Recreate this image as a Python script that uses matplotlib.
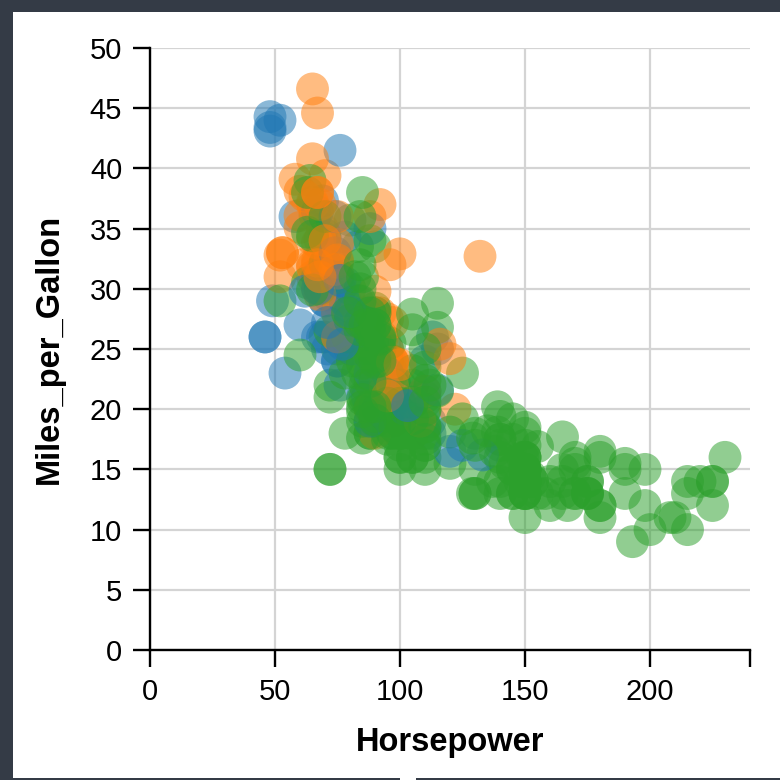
import matplotlib
matplotlib.use("Agg")
import matplotlib.pyplot as plt
from matplotlib.patches import Rectangle

# Cars dataset: horsepower, miles per gallon and origin, grouped by model year.
# Origin codes: U = USA, E = Europe, J = Japan.
hp_1970 = [130, 165, 150, 150, 140, 198, 220, 215, 225, 190, 170, 160, 150, 225, 95, 95, 97, 85, 88, 46,
           87, 90, 95, 113, 90, 215, 200, 210, 193]
mpg_1970 = [18, 15, 18, 16, 17, 15, 14, 14, 14, 15, 15, 14, 15, 14, 24, 22, 18, 21, 27, 26,
            25, 24, 25, 26, 21, 10, 10, 11, 9]
origin_1970 = "UUUUUUUUUUUUUUJUUUJEEEEEUUUUU"

hp_1971 = [88, 90, 95, 100, 105, 100, 88, 100, 165, 175, 153, 150, 180, 170, 175, 110, 72, 100, 88, 86,
           90, 70, 76, 65, 69, 60, 70, 95, 80, 54, 90, 86]
mpg_1971 = [27, 28, 25, 19, 16, 17, 19, 18, 14, 14, 14, 14, 12, 13, 13, 18, 22, 19, 18, 23,
            28, 30, 30, 31, 35, 27, 26, 24, 25, 23, 20, 21]
origin_1971 = "JUJ" "UUUUUUUUUUUUUUUUU" "EEEJJEUJUEUU"

hp_1972 = [165, 175, 150, 153, 150, 208, 155, 160, 190, 97, 150, 130, 140, 150, 112, 76, 87, 69, 86, 92,
           97, 80, 88]
mpg_1972 = [13, 14, 15, 14, 17, 11, 13, 12, 13, 19, 15, 13, 13, 14, 18, 22, 21, 26, 22, 28,
            23, 28, 27]
origin_1972 = "UUUUUUUUUJUUUUEEEEUJJUJ"

hp_1973 = [175, 150, 145, 137, 150, 198, 150, 158, 150, 215, 225, 175, 105, 100, 100, 88, 95, 46, 150, 167,
           170, 180, 100, 88, 72, 94, 90, 85, 107, 90, 145, 230, 49, 75, 91, 112, 150, 110, 122, 180]
mpg_1973 = [13, 14, 13, 14, 15, 12, 13, 13, 14, 13, 12, 13, 18, 16, 18, 18, 23, 26, 11, 12,
            13, 12, 18, 20, 21, 22, 18, 19, 21, 26, 15, 16, 29, 24, 20, 19, 15, 24, 20, 11]
origin_1973 = "UUUUUUUUUUUUUUUUU" "E" "UUUUU" "JUJJUUEUUEEEEUEJU"

hp_1974 = [95, 100, 100, 67, 80, 65, 75, 100, 110, 105, 140, 150, 150, 140, 150, 83, 67, 78, 52, 61,
           75, 75, 75, 97, 93, 67]
mpg_1974 = [20, 19, 15, 31, 26, 32, 25, 16, 16, 18, 16, 13, 14, 14, 14, 29, 26, 26, 31, 32,
            28, 24, 26, 24, 26, 31]
origin_1974 = "UUUJUJU" "UUUUUUUU" "EEEJJUEEJJE"

hp_1975 = [95, 105, 72, 72, 170, 145, 150, 148, 110, 105, 110, 95, 110, 110, 129, 75, 83, 100, 78, 96,
           71, 97, 97, 70, 90, 95, 88, 98, 115, 53]
mpg_1975 = [19, 18, 15, 15, 16, 15, 16, 14, 17, 16, 15, 18, 21, 20, 13, 29, 23, 20, 23, 24,
            25, 24, 18, 29, 19, 23, 23, 22, 25, 33]
origin_1975 = "UUUUUUUUUUUUUUU" "JUUUJEJUEUEEEEJ"

hp_1976 = [86, 81, 92, 79, 83, 140, 150, 120, 152, 100, 105, 81, 90, 52, 60, 70, 53, 100, 78, 110,
           95, 71, 70, 75, 72, 102, 150, 88, 108, 120, 180, 145, 130, 150]
mpg_1976 = [28, 25, 25, 26, 27, 17.5, 16, 15.5, 14.5, 22, 22, 24, 22.5, 29, 24.5, 29, 33, 20, 18, 18.5,
            17.5, 29.5, 32, 28, 26.5, 20, 13, 19, 19, 16.5, 16.5, 13, 13, 13]
origin_1976 = "EEUUE" "UUUUUUUUUU" "EJUUUUEJJUEUEJE" "UUUU"

hp_1977 = [68, 80, 58, 96, 70, 145, 110, 145, 130, 110, 105, 100, 98, 180, 170, 190, 149, 78, 88, 75,
           89, 63, 83, 67, 78, 97, 110, 110]
mpg_1977 = [31.5, 30, 36, 25.5, 33.5, 17.5, 17, 15.5, 15, 17.5, 20.5, 19, 18.5, 16, 15.5, 15.5, 16, 29, 24.5, 26,
            25.5, 30.5, 33.5, 30, 30.5, 22, 21.5, 21.5]
origin_1977 = "JUEUJ" "UUUUUUUUUUUU" "EUJUUUJEJEJ"

hp_1978 = [48, 66, 52, 70, 60, 110, 140, 139, 105, 95, 85, 88, 100, 90, 105, 85, 110, 120, 145, 165,
           139, 140, 68, 95, 97, 75, 95, 105, 85, 97, 103, 125, 115, 133, 71, 68]
mpg_1978 = [43.1, 36.1, 32.8, 39.4, 36.1, 19.9, 19.4, 20.2, 19.2, 20.5, 20.2, 25.1, 20.5, 19.4, 20.6, 20.8,
            18.6, 18.1, 19.2, 17.7, 18.1, 17.5, 30, 27.5, 27.2, 30.9, 21.1, 23.2, 23.8, 23.9, 20.3, 17,
            21.6, 16.2, 31.5, 29.5]
origin_1978 = "EUJJJ" "UUUUUUUUUUUUUUUUUU" "JJUJUUJEEEEEJ"

hp_1979 = [115, 85, 88, 90, 110, 130, 129, 138, 135, 155, 142, 125, 150, 71, 65, 80, 80, 77, 125, 71,
           90, 70, 70, 65, 69, 90, 115, 115, 90]
mpg_1979 = [21.5, 19.8, 22.3, 20.2, 20.6, 17, 17.6, 16.5, 18.2, 16.9, 15.5, 19.2, 18.5, 31.9, 34.1, 35.7,
            27.4, 25.4, 23, 27.2, 23.9, 34.2, 34.5, 31.8, 37.3, 28.4, 28.8, 26.8, 33.5]
origin_1979 = "UUUUUUUUUUUUU" "EJUUEUEUUUJEUUUU"

hp_1980 = [76, 60, 70, 65, 90, 88, 90, 90, 78, 90, 75, 92, 75, 65, 105, 65, 48, 48, 67, 67,
           67, 67, 62, 132, 100, 88, 72]
mpg_1980 = [41.5, 38.1, 32.1, 37.2, 28, 26.4, 24.3, 19.1, 34.3, 29.8, 31.3, 37, 32.2, 46.6, 27.9, 40.8,
            44.3, 43.4, 36.4, 30, 44.6, 33.8, 29.8, 32.7, 23.7, 35, 32.4]
origin_1980 = "EJUJUUUUEJJJJJUJEEEEJJEJJEJ"

hp_1981 = [84, 84, 92, 110, 84, 58, 64, 60, 67, 65, 62, 68, 63, 65, 65, 74, 75, 75, 100, 74,
           80, 76, 116, 120, 110, 105, 88, 85]
mpg_1981 = [27.2, 26.6, 25.8, 23.5, 30, 39.1, 39, 35.1, 32.3, 37, 37.7, 34.1, 34.7, 34.4, 29.9, 33,
            33.7, 32.4, 32.9, 31.6, 28.1, 30.7, 25.4, 24.2, 22.4, 26.6, 20.2, 17.6]
origin_1981 = "UUUUUJUJJJJJUUUEJJJJEEJJUUUU"

hp_1982 = [88, 88, 88, 85, 84, 90, 92, 74, 68, 68, 63, 70, 88, 75, 70, 67, 67, 67, 110, 85,
           92, 112, 96, 84, 90, 86, 52, 84, 79, 82]
mpg_1982 = [28, 27, 34, 31, 29, 27, 24, 36, 37, 31, 38, 36, 36, 36, 34, 38, 32, 38, 25, 38,
            26, 22, 32, 36, 27, 27, 44, 32, 28, 31]
origin_1982 = "UUUUUUUEJJUUJJJJJJUUUUJUUUEUUU"

years_hp = [hp_1970, hp_1971, hp_1972, hp_1973, hp_1974, hp_1975, hp_1976,
            hp_1977, hp_1978, hp_1979, hp_1980, hp_1981, hp_1982]
years_mpg = [mpg_1970, mpg_1971, mpg_1972, mpg_1973, mpg_1974, mpg_1975, mpg_1976,
             mpg_1977, mpg_1978, mpg_1979, mpg_1980, mpg_1981, mpg_1982]
years_origin = [origin_1970, origin_1971, origin_1972, origin_1973, origin_1974, origin_1975,
                origin_1976, origin_1977, origin_1978, origin_1979, origin_1980, origin_1981,
                origin_1982]
for h, m, o in zip(years_hp, years_mpg, years_origin):
    assert len(h) == len(m) == len(o), (len(h), len(m), len(o))

horsepower = [v for year in years_hp for v in year]
miles_per_gallon = [v for year in years_mpg for v in year]
origin_codes = "".join(years_origin)

origin_names = {"U": "USA", "E": "Europe", "J": "Japan"}
origin_colors = {"Europe": "#1f77b4", "Japan": "#ff7f0e", "USA": "#2ca02c"}
point_colors = [origin_colors[origin_names[c]] for c in origin_codes]

x_ticks = [0, 50, 100, 150, 200]
y_ticks = [0, 5, 10, 15, 20, 25, 30, 35, 40, 45, 50]

plt.rcParams["font.family"] = ["Liberation Sans", "DejaVu Sans"]

W = H = 780
fig = plt.figure(figsize=(W / 100, H / 100), dpi=100)
fig.patch.set_facecolor("white")

# dark page frame around the chart
frame = "#343b46"
for (x0, y0, w, h) in [(0, 0, 13, H), (0, H - 12, W, 12), (0, 0, 400, 2), (416, 0, W - 416, 2)]:
    fig.add_artist(Rectangle((x0 / W, y0 / H), w / W, h / H, transform=fig.transFigure,
                             facecolor=frame, edgecolor="none", zorder=0))

ax = fig.add_axes([150 / W, 130 / H, 600 / W, 602 / H])
ax.set_xlim(0, 240)
ax.set_ylim(0, 50)

ax.scatter(horsepower, miles_per_gallon, s=560, c=point_colors, alpha=0.52,
           edgecolors="none", clip_on=False, zorder=3)

for side in ("top", "right"):
    ax.spines[side].set_visible(False)
for side in ("left", "bottom"):
    ax.spines[side].set_color("black")
    ax.spines[side].set_linewidth(1.7)
    ax.spines[side].set_zorder(4)

ax.set_xticks(x_ticks)
ax.set_xticks([240], minor=True)
ax.set_yticks(y_ticks)
ax.tick_params(axis="both", which="both", length=12, width=1.7, color="black",
               labelsize=21, labelcolor="black")
ax.tick_params(axis="x", pad=8)
ax.tick_params(axis="y", pad=8)

ax.set_axisbelow(True)
ax.grid(True, which="major", color="#d4d4d4", linewidth=1.6)

fig.text(450 / W, 1 - 742 / H, "Horsepower", ha="center", va="center",
         fontsize=23.5, fontweight="bold")
fig.text(49 / W, 1 - 349 / H, "Miles_per_Gallon", ha="center", va="center",
         rotation=90, fontsize=23.5, fontweight="bold")

fig.savefig("out.png", dpi=100, facecolor="white")
